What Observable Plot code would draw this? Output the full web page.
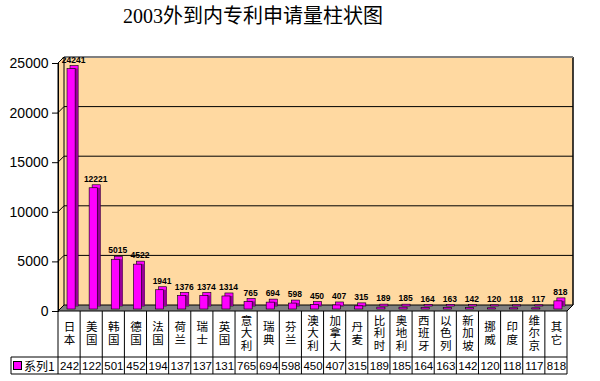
<!DOCTYPE html>
<html><head><meta charset="utf-8">
<script src="https://cdn.jsdelivr.net/npm/d3@7"></script>
<script src="https://cdn.jsdelivr.net/npm/@observablehq/plot@0.6"></script>
<style>body{margin:0;background:#fff;} svg{display:block}</style>
</head><body><div id="chart"></div>
<script>
const title = "2003外到内专利申请量柱状图";
const categories = ["日本","美国","韩国","德国","法国","荷兰","瑞士","英国","意大利","瑞典","芬兰","澳大利","加拿大","丹麦","比利时","奥地利","西班牙","以色列","新加坡","挪威","印度","维尔京","其它"];
const values = [24241,12221,5015,4522,1941,1376,1374,1314,765,694,598,450,407,315,189,185,164,163,142,120,118,117,818];
const tableLabels = ["242","122","501","452","194","137","137","131","765","694","598","450","407","315","189","185","164","163","142","120","118","117","818"];
const yTicks = [0,5000,10000,15000,20000,25000];
const seriesName = "系列1";

const data = categories.map((c,i)=>({cat:c, value:values[i], label:tableLabels[i]}));

const WALL = "#FFD9A1";
const BAR = "#FF00FF";
const BAR_SIDE = "#990099";
const D = 6;
const SANS = "'Liberation Sans', Arial, sans-serif";
const CJK = "'Noto Sans CJK SC', sans-serif";
const NS = "http://www.w3.org/2000/svg";

function mk(g, tag, attrs, text) {
  const e = document.createElementNS(NS, tag);
  for (const k in attrs) e.setAttribute(k, attrs[k]);
  if (text != null) e.textContent = text;
  g.appendChild(e);
  return e;
}

function walls(index, {x, y}, values, dims) {
  const g = document.createElementNS(NS, "g");
  const L = dims.marginLeft, R = dims.width - dims.marginRight;
  const y0 = y(0), yT = y(yTicks[yTicks.length - 1]);
  mk(g, "rect", {x: L + D, y: yT - D, width: R - L, height: y0 - yT, fill: WALL, stroke: "none"});
  mk(g, "polygon", {points: `${L},${yT} ${L + D},${yT - D} ${L + D},${y0 - D} ${L},${y0}`, fill: WALL, stroke: "#000", "stroke-width": 1});
  for (const t of yTicks.slice(1)) {
    const yy = y(t);
    mk(g, "polyline", {points: `${L},${yy} ${L + D},${yy - D} ${R + D},${yy - D}`, fill: "none", stroke: "#000", "stroke-width": 1});
  }
  mk(g, "line", {x1: R + D, x2: R + D, y1: yT - D, y2: y0 - D, stroke: "#000", "stroke-width": 1.5});
  mk(g, "line", {x1: L + D, x2: R + D, y1: yT - D, y2: yT - D, stroke: "#808080", "stroke-width": 2});
  mk(g, "polygon", {points: `${L},${y0} ${R},${y0} ${R + D},${y0 - D} ${L + D},${y0 - D}`, fill: "#808080", stroke: "#000", "stroke-width": 1});
  return g;
}

function table(index, {x, y}, values, dims) {
  const g = document.createElementNS(NS, "g");
  const L = dims.marginLeft, R = dims.width - dims.marginRight;
  const y0 = y(0);
  const split = y0 + 46, end = y0 + 63;
  const legL = 11;
  for (const c of categories) {
    const xx = x(c);
    mk(g, "line", {x1: xx, x2: xx, y1: y0, y2: end, stroke: "#000", "stroke-width": 1});
  }
  mk(g, "line", {x1: R, x2: R, y1: y0, y2: end, stroke: "#000", "stroke-width": 1});
  mk(g, "line", {x1: legL, x2: R, y1: split, y2: split, stroke: "#000", "stroke-width": 1});
  mk(g, "line", {x1: legL, x2: R, y1: end, y2: end, stroke: "#000", "stroke-width": 1});
  mk(g, "line", {x1: legL, x2: legL, y1: split, y2: end, stroke: "#000", "stroke-width": 1});
  mk(g, "rect", {x: 13.5, y: split + 4.5, width: 8, height: 8, fill: BAR, stroke: "#000", "stroke-width": 1});
  mk(g, "text", {x: 24, y: (split + end) / 2, "text-anchor": "start", "dominant-baseline": "central", "font-size": 12, "font-family": CJK, fill: "#000"}, seriesName);
  return g;
}

const chart = Plot.plot({
  width: 600,
  height: 381,
  marginLeft: 58,
  marginRight: 33,
  marginTop: 63,
  marginBottom: 70,
  style: {background: "#fff", overflow: "visible"},
  x: {domain: categories, padding: 0, round: false, axis: null},
  y: {domain: [0, 25000], axis: null},
  marks: [
    walls,
    Plot.barY(data, {x: "cat", y: "value", fill: BAR, stroke: "#000", strokeWidth: 0.6, insetLeft: 9, insetRight: 5, dx: 3, dy: -5}),
    Plot.barY(data, {x: "cat", y: "value", fill: BAR_SIDE, insetLeft: 9, insetRight: 5, insetTop: 3, dx: 3, dy: -5}),
    Plot.barY(data, {x: "cat", y: "value", fill: BAR, stroke: "#000", strokeWidth: 0.6, insetLeft: 9, insetRight: 5, dy: -2}),
    Plot.text(data, {x: "cat", y: "value", text: d => String(d.value), dx: 4, dy: -11, fontSize: 8.5, fontWeight: "bold", fontFamily: SANS, fill: "#000"}),
    Plot.frame({anchor: "left", stroke: "#000"}),
    Plot.axisY({ticks: yTicks, tickSize: 6, tickPadding: 4, fontSize: 14, fontFamily: SANS, label: null, tickFormat: d => String(d)}),
    Plot.text(data, {x: "cat", text: d => d.cat.split("").join("\n"), frameAnchor: "bottom", lineAnchor: "middle", lineHeight: 1.08, dy: 22, fontSize: 11.5, fontFamily: CJK, fill: "#000"}),
    Plot.text(data, {x: "cat", text: "label", frameAnchor: "bottom", lineAnchor: "middle", dy: 55, fontSize: 11.5, fontFamily: SANS, fill: "#000"}),
    table,
    Plot.text([title], {frameAnchor: "top", lineAnchor: "middle", dx: -60, dy: -47, fontSize: 20, fontFamily: "'Liberation Serif', 'Noto Sans CJK SC', serif", fill: "#000"})
  ]
});
document.getElementById("chart").appendChild(chart);
</script>
</body></html>
